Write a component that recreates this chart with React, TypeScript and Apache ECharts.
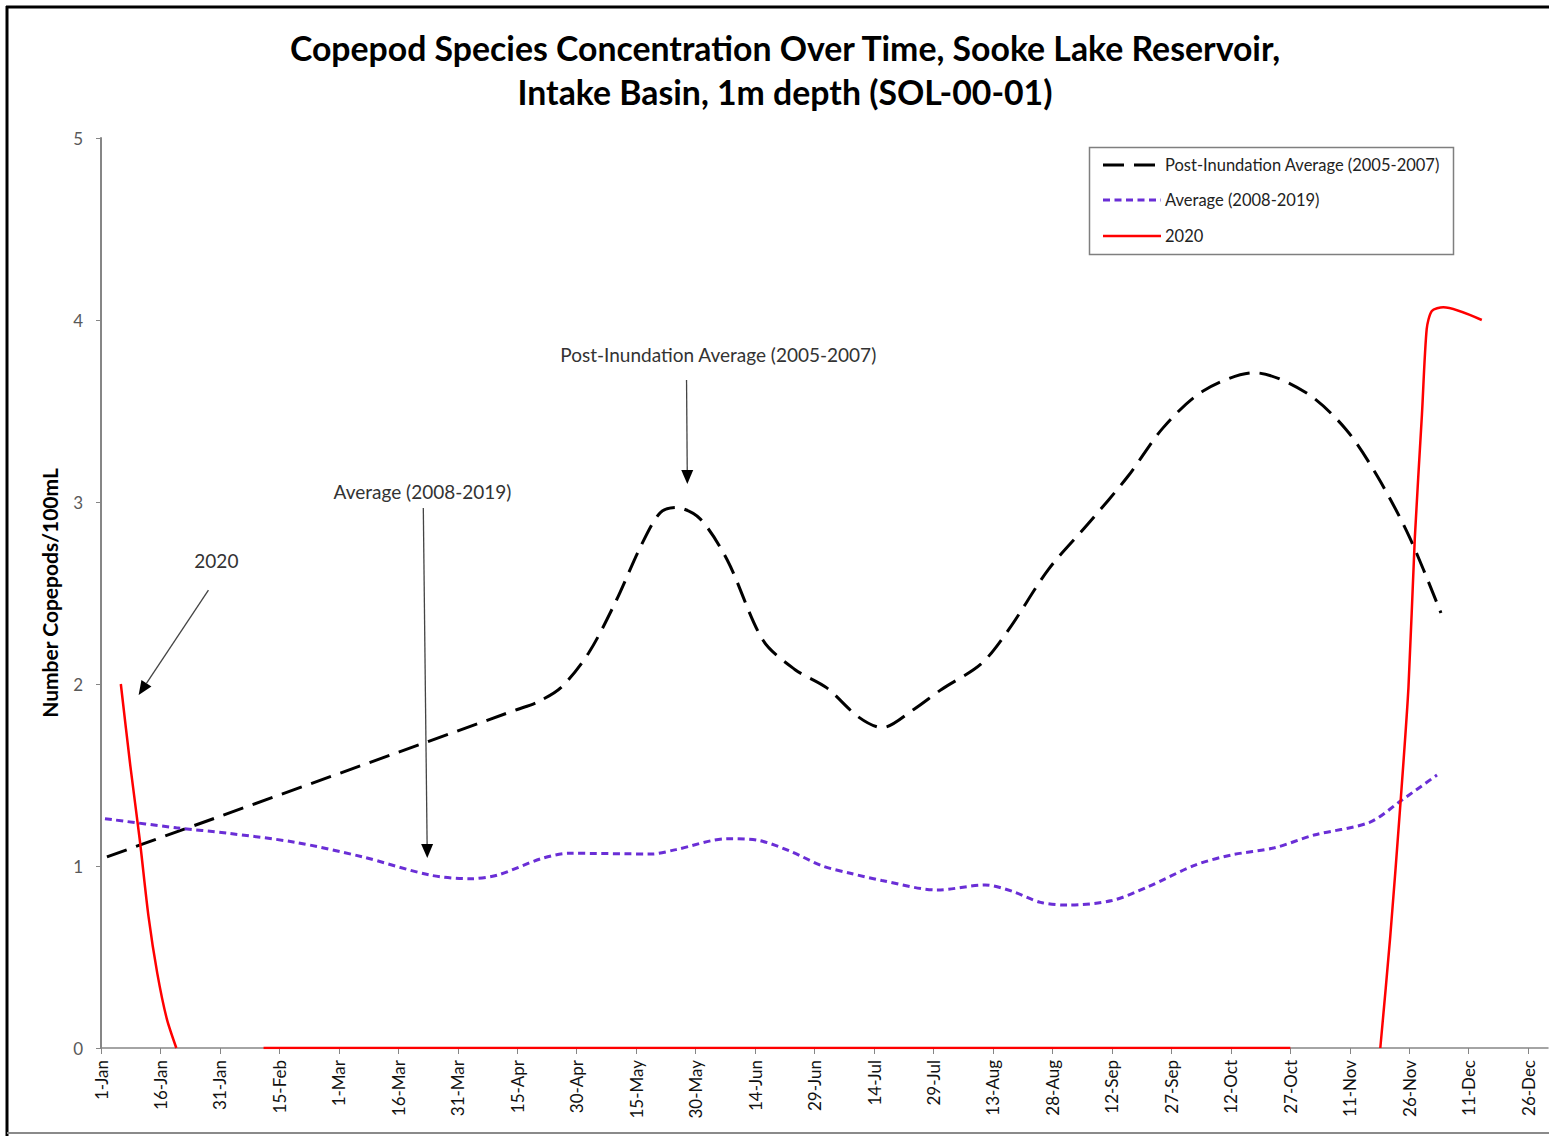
import React, { useEffect, useRef } from "react";
import * as echarts from "echarts";

// x values are days after 1-Jan (2020)
const tickLabels = [
  "1-Jan", "16-Jan", "31-Jan", "15-Feb", "1-Mar", "16-Mar", "31-Mar", "15-Apr",
  "30-Apr", "15-May", "30-May", "14-Jun", "29-Jun", "14-Jul", "29-Jul", "13-Aug",
  "28-Aug", "12-Sep", "27-Sep", "12-Oct", "27-Oct", "11-Nov", "26-Nov", "11-Dec", "26-Dec",
];
const tickDays = tickLabels.map((_, i) => i * 15);

const postName = "Post-Inundation Average (2005-2007)";
const avgName = "Average (2008-2019)";
const y2020Name = "2020";

const postDays = [1.5, 105, 110, 116, 123, 130, 136, 141, 145, 151, 158, 167, 175, 183, 191, 197, 205, 212, 222, 229, 239, 249, 259, 268, 278, 291, 304, 314, 322, 330, 338];
const postValues = [1.05, 1.86, 1.9, 1.98, 2.17, 2.46, 2.75, 2.94, 2.97, 2.91, 2.68, 2.24, 2.08, 1.98, 1.82, 1.76, 1.86, 1.97, 2.11, 2.3, 2.63, 2.88, 3.14, 3.41, 3.61, 3.71, 3.6, 3.4, 3.14, 2.81, 2.39];

const avgDays = [1, 19, 32, 49, 66, 83, 93, 100, 111, 118, 139, 145, 158, 166, 174, 182, 189, 197, 211, 223, 230, 237, 244, 255, 264, 276, 285, 296, 306, 320, 328, 337];
const avgValues = [1.26, 1.21, 1.18, 1.13, 1.05, 0.95, 0.93, 0.95, 1.04, 1.07, 1.066, 1.09, 1.15, 1.14, 1.08, 1.0, 0.96, 0.92, 0.868, 0.896, 0.86, 0.8, 0.785, 0.81, 0.885, 1.005, 1.06, 1.1, 1.17, 1.24, 1.36, 1.5];

const y2020Days = [5, 7.4, 9.8, 12, 14.2, 16.6, 19, 30, 41, 300, 311, 322.7, 325.2, 327.7, 329.8, 331.4, 333.2, 334.4, 335.7, 338.6, 348.3];
const y2020Values: (number | null)[] = [2.0, 1.55, 1.14, 0.72, 0.41, 0.16, 0, null, 0, 0, null, 0, 0.61, 1.32, 1.98, 2.8, 3.48, 3.95, 4.05, 4.07, 4.0];

const annotationTexts = [postName, avgName, y2020Name];
const annotationTextPos = [[155.7, 3.813], [81.1, 3.055], [29.1, 2.676]];
const annotationArrows = [
  [[147.7, 3.67], [147.9, 3.099]],
  [[81.3, 2.967], [82.3, 1.044]],
  [[27.1, 2.516], [9.5, 1.94]],
];

const FONT = "Lato, 'Noto Sans', sans-serif";
const BLACK_DASH = [21, 10];
const PURPLE_DASH = [7, 4.5];
const PURPLE = "#6A2ED6";

const pairs = (xs: number[], ys: (number | null)[]) =>
  xs.map((x, i) => [x, ys[i] === null ? "-" : ys[i]]);

export default function App() {
  const ref = useRef<HTMLDivElement>(null);
  useEffect(() => {
    const chart = echarts.init(ref.current!, null, { renderer: "svg" });
    chart.setOption({
      animation: false,
      backgroundColor: "#ffffff",
      textStyle: { fontFamily: FONT },
      grid: { left: 101, right: 1, top: 138, bottom: 88, containLabel: false },
      xAxis: {
        type: "value",
        min: 0,
        max: 365,
        interval: 15,
        axisLine: { show: true, lineStyle: { color: "#868686", width: 1.5 } },
        axisTick: { show: true, length: 6, customValues: tickDays, lineStyle: { color: "#868686" } },
        axisLabel: {
          rotate: 90,
          fontSize: 17,
          color: "#111",
          fontFamily: FONT,
          margin: 12,
          customValues: tickDays,
          formatter: (v: number) => tickLabels[Math.round(v / 15)] ?? "",
        },
        splitLine: { show: false },
      },
      yAxis: {
        type: "value",
        min: 0,
        max: 5,
        interval: 1,
        name: "Number Copepods/100mL",
        nameLocation: "middle",
        nameGap: 41,
        nameRotate: 90,
        nameTextStyle: { fontSize: 21, fontWeight: "bold", color: "#000", fontFamily: FONT },
        axisLine: { show: true, lineStyle: { color: "#868686", width: 2 } },
        axisTick: { show: true, length: 5, lineStyle: { color: "#868686" } },
        axisLabel: { fontSize: 17, color: "#595959", margin: 18, fontFamily: FONT },
        splitLine: { show: false },
      },
      series: [
        {
          name: postName,
          type: "line",
          data: pairs(postDays, postValues),
          smooth: 0.3,
          symbol: "none",
          lineStyle: { color: "#000000", width: 3, type: BLACK_DASH },
          itemStyle: { color: "#000000" },
          z: 3,
        },
        {
          name: avgName,
          type: "line",
          data: pairs(avgDays, avgValues),
          smooth: 0.3,
          symbol: "none",
          lineStyle: { color: PURPLE, width: 3, type: PURPLE_DASH },
          itemStyle: { color: PURPLE },
          z: 3,
        },
        {
          name: y2020Name,
          type: "line",
          data: pairs(y2020Days, y2020Values),
          smooth: 0.25,
          connectNulls: false,
          symbol: "none",
          lineStyle: { color: "#FF0000", width: 2.5 },
          itemStyle: { color: "#FF0000" },
          z: 4,
        },
      ],
    });

    const toPx = (p: number[]) => chart.convertToPixel({ gridIndex: 0 }, p) as number[];
    const graphics: any[] = [
      { type: "line", shape: { x1: 7, y1: 6, x2: 7, y2: 1136 }, style: { stroke: "#000", lineWidth: 3 } },
      { type: "line", shape: { x1: 6, y1: 7, x2: 1549, y2: 7 }, style: { stroke: "#000", lineWidth: 3 } },
      { type: "line", shape: { x1: 7, y1: 1133, x2: 1549, y2: 1133 }, style: { stroke: "#8a8a8a", lineWidth: 2 } },
      {
        type: "text", x: 785, y: 48,
        style: { text: "Copepod Species Concentration Over Time, Sooke Lake Reservoir,", font: `bold 33.8px ${FONT}`, fill: "#000", align: "center", verticalAlign: "middle", textAlign: "center", textVerticalAlign: "middle" },
      },
      {
        type: "text", x: 785, y: 92,
        style: { text: "Intake Basin, 1m depth (SOL-00-01)", font: `bold 33.8px ${FONT}`, fill: "#000", align: "center", verticalAlign: "middle", textAlign: "center", textVerticalAlign: "middle" },
      },
      { type: "rect", shape: { x: 1089.5, y: 147.5, width: 364, height: 107 }, style: { fill: "none", stroke: "#7f7f7f", lineWidth: 1.5 } },
    ];
    // legend
    const legendRows = [
      { name: postName, color: "#000", dash: BLACK_DASH, width: 3, y: 165 },
      { name: avgName, color: PURPLE, dash: PURPLE_DASH, width: 3, y: 200 },
      { name: y2020Name, color: "#FF0000", dash: null, width: 2.5, y: 236 },
    ];
    legendRows.forEach((r) => {
      graphics.push({
        type: "line",
        shape: { x1: 1103, y1: r.y, x2: 1161, y2: r.y },
        style: { stroke: r.color, lineWidth: r.width, lineDash: r.dash || undefined },
      });
      graphics.push({
        type: "text", x: 1165, y: r.y,
        style: { text: r.name, font: `16.5px ${FONT}`, fill: "#222", align: "left", verticalAlign: "middle", textAlign: "left", textVerticalAlign: "middle" },
      });
    });
    annotationTexts.forEach((t, i) => {
      const [tx, ty] = toPx(annotationTextPos[i]);
      graphics.push({
        type: "text", x: tx, y: ty,
        style: { text: t, font: `19px ${FONT}`, fill: "#333", align: "center", verticalAlign: "middle", textAlign: "center", textVerticalAlign: "middle" },
      });
      const [a, b] = annotationArrows[i];
      const [x1, y1] = toPx(a);
      const [x2, y2] = toPx(b);
      const dx = x2 - x1, dy = y2 - y1;
      const len = Math.sqrt(dx * dx + dy * dy);
      const ux = dx / len, uy = dy / len;
      const hl = 14, hw = 6;
      const bx = x2 - ux * hl, by = y2 - uy * hl;
      graphics.push({ type: "line", shape: { x1, y1, x2: bx, y2: by }, style: { stroke: "#444", lineWidth: 1.3 } });
      graphics.push({
        type: "polygon",
        shape: { points: [[x2, y2], [bx - uy * hw, by + ux * hw], [bx + uy * hw, by - ux * hw]] },
        style: { fill: "#000" },
      });
    });
    chart.setOption({ graphic: graphics });
    return () => chart.dispose();
  }, []);
  return <div ref={ref} style={{ position: "absolute", left: 0, top: 0, width: 1549, height: 1136 }} />;
}
